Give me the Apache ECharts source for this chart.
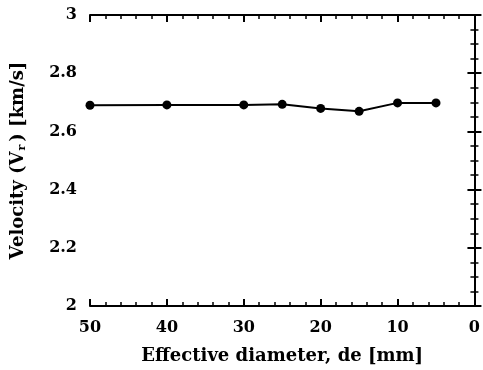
<!DOCTYPE html>
<html>
<head>
<meta charset="utf-8">
<title>Velocity vs effective diameter</title>
<script src="https://cdn.jsdelivr.net/npm/echarts@6/dist/echarts.min.js"></script>
</head>
<body style="margin:0">
<div id="main" style="width:483px;height:370px;"></div>
<script>
// data
var diameters = [50, 40, 30, 25, 20, 15, 10, 5];
var velocity = [2.690, 2.691, 2.691, 2.693, 2.679, 2.669, 2.698, 2.698];

var pts = [];
for (var i = 0; i < diameters.length; i++) {
    pts.push([diameters[i], velocity[i]]);
}

var font = 'DejaVu Serif';
var axisLine = {show: true, lineStyle: {color: '#000', width: 2}};

var chart = echarts.init(document.getElementById('main'));
chart.setOption({
    animation: false,
    grid: {left: 90, right: 5, top: 15, bottom: 64},
    xAxis: [{
        type: 'value', min: 0, max: 50, interval: 10, inverse: true,
        axisLine: axisLine,
        axisTick: {inside: true, length: 7, lineStyle: {color: '#000', width: 2}},
        minorTick: {show: true, splitNumber: 5, length: 4, lineStyle: {color: '#000', width: 1.5}},
        splitLine: {show: false},
        axisLabel: {color: '#000', fontFamily: font, fontWeight: 'bold', fontSize: 16, margin: 14},
        name: 'Effective diameter, de [mm]',
        nameLocation: 'middle', nameGap: 41,
        nameTextStyle: {color: '#000', fontFamily: font, fontWeight: 'bold', fontSize: 18}
    }, {
        type: 'value', min: 0, max: 50, interval: 10, inverse: true, position: 'top',
        axisLine: axisLine,
        axisTick: {inside: true, length: 7, lineStyle: {color: '#000', width: 2}},
        minorTick: {show: true, splitNumber: 5, length: 4, lineStyle: {color: '#000', width: 1.5}},
        splitLine: {show: false}, axisLabel: {show: false}
    }],
    yAxis: [{
        type: 'value', min: 2, max: 3, interval: 0.2,
        axisLine: axisLine,
        axisTick: {inside: true, length: 7, lineStyle: {color: '#000', width: 2}},
        minorTick: {show: true, splitNumber: 4, length: 4, lineStyle: {color: '#000', width: 1.5}},
        splitLine: {show: false},
        axisLabel: {color: '#000', fontFamily: font, fontWeight: 'bold', fontSize: 16, margin: 13},
        name: '{a|Velocity (V}{s|r}{a|) [km/s]}',
        nameLocation: 'middle', nameGap: 62, nameRotate: 90,
        nameTextStyle: {
            rich: {
                a: {color: '#000', fontFamily: font, fontWeight: 'bold', fontSize: 18},
                s: {color: '#000', fontFamily: font, fontWeight: 'bold', fontSize: 11, padding: [9, 3, 0, 1]}
            }
        }
    }, {
        type: 'value', min: 2, max: 3, interval: 0.2, position: 'right',
        axisLine: axisLine,
        axisTick: {inside: true, length: 7, lineStyle: {color: '#000', width: 2}},
        minorTick: {show: true, splitNumber: 4, length: 4, lineStyle: {color: '#000', width: 1.5}},
        splitLine: {show: false}, axisLabel: {show: false}
    }],
    series: [{
        type: 'line',
        data: pts,
        symbol: 'circle', symbolSize: 9,
        itemStyle: {color: '#000'},
        lineStyle: {color: '#000', width: 2}
    }]
});
</script>
</body>
</html>
